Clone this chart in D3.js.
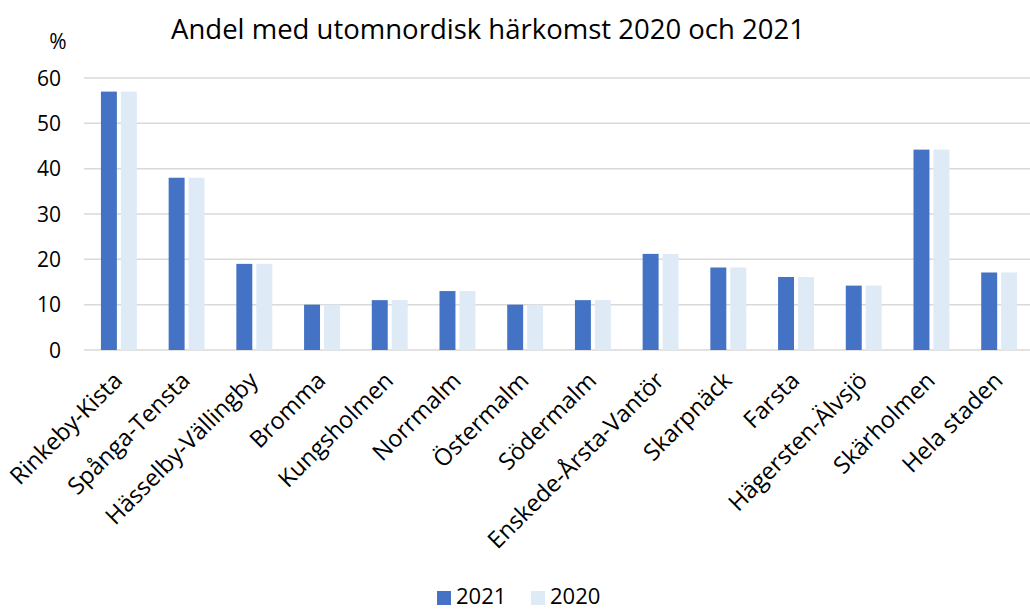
<!DOCTYPE html>
<html>
<head>
<meta charset="utf-8">
<script src="https://cdn.jsdelivr.net/npm/d3@7"></script>
<style>
  body { margin: 0; background: #fff; }
  text { font-family: "Open Sans", "Noto Sans", sans-serif; fill: #000; }
</style>
</head>
<body>
<div id="chart"></div>
<script>
var categories = ["Rinkeby-Kista", "Spånga-Tensta", "Hässelby-Vällingby", "Bromma", "Kungsholmen",
  "Norrmalm", "Östermalm", "Södermalm", "Enskede-Årsta-Vantör", "Skarpnäck", "Farsta",
  "Hägersten-Älvsjö", "Skärholmen", "Hela staden"];
var values2021 = [57, 38, 19, 10, 11, 13, 10, 11, 21.2, 18.2, 16.1, 14.2, 44.2, 17.1];
var values2020 = [57, 38, 19, 10, 11, 13, 10, 11, 21.2, 18.2, 16.1, 14.2, 44.2, 17.1];
var seriesNames = ["2021", "2020"];
var seriesColors = ["#4472C4", "#DEEAF6"];
var yTicks = [0, 10, 20, 30, 40, 50, 60];

var width = 1030, height = 610;
var margin = { top: 78, left: 84, right: 0, bottom: 260 };

var svg = d3.select("#chart").append("svg")
  .attr("width", width)
  .attr("height", height);

var x = d3.scaleBand()
  .domain(categories)
  .range([margin.left, 1032])
  .paddingInner(0)
  .paddingOuter(0);

var y = d3.scaleLinear()
  .domain([0, 60])
  .range([350, margin.top]);

var sub = d3.scaleBand()
  .domain(seriesNames)
  .range([x.bandwidth() * 0.25, x.bandwidth() * 0.78])
  .paddingInner(0.2);

// gridlines
svg.append("g")
  .selectAll("line")
  .data(yTicks)
  .enter()
  .append("line")
  .attr("x1", margin.left)
  .attr("x2", width)
  .attr("y1", function(d) { return y(d); })
  .attr("y2", function(d) { return y(d); })
  .style("stroke", "#D9D9D9")
  .style("stroke-width", 1.5);

// y labels
svg.append("g")
  .selectAll("text")
  .data(yTicks)
  .enter()
  .append("text")
  .attr("x", 61)
  .attr("y", function(d) { return y(d); })
  .attr("dy", "0.36em")
  .attr("text-anchor", "end")
  .style("font-size", "21px")
  .text(function(d) { return d; });

var allSeries = [values2021, values2020];

allSeries.forEach(function(vals, i) {
  svg.append("g")
    .selectAll("rect")
    .data(vals)
    .enter()
    .append("rect")
    .attr("x", function(d, j) { return x(categories[j]) + sub(seriesNames[i]); })
    .attr("y", function(d) { return y(d); })
    .attr("width", sub.bandwidth())
    .attr("height", function(d) { return y(0) - y(d); })
    .style("fill", seriesColors[i]);
});

// category labels
svg.append("g")
  .selectAll("text")
  .data(categories)
  .enter()
  .append("text")
  .attr("transform", function(d) {
    return "translate(" + (x(d) + x.bandwidth() / 2 + 6) + ",382) rotate(-45)";
  })
  .attr("text-anchor", "end")
  .style("font-size", "23.5px")
  .text(function(d) { return d; });

// title
svg.append("text")
  .attr("x", 488)
  .attr("y", 39)
  .attr("text-anchor", "middle")
  .style("font-size", "27.5px")
  .text("Andel med utomnordisk härkomst 2020 och 2021");

svg.append("text")
  .attr("x", 58)
  .attr("y", 49)
  .attr("text-anchor", "middle")
  .style("font-size", "21px")
  .text("%");

// legend
var legend = svg.append("g")
  .selectAll("g")
  .data(seriesNames)
  .enter()
  .append("g")
  .attr("transform", function(d, i) { return "translate(" + (437 + i * 94) + ",591)"; });

legend.append("rect")
  .attr("width", 14)
  .attr("height", 14)
  .style("fill", function(d, i) { return seriesColors[i]; });

legend.append("text")
  .attr("x", 19)
  .attr("y", 13)
  .style("font-size", "22px")
  .text(function(d) { return d; });
</script>
</body>
</html>
